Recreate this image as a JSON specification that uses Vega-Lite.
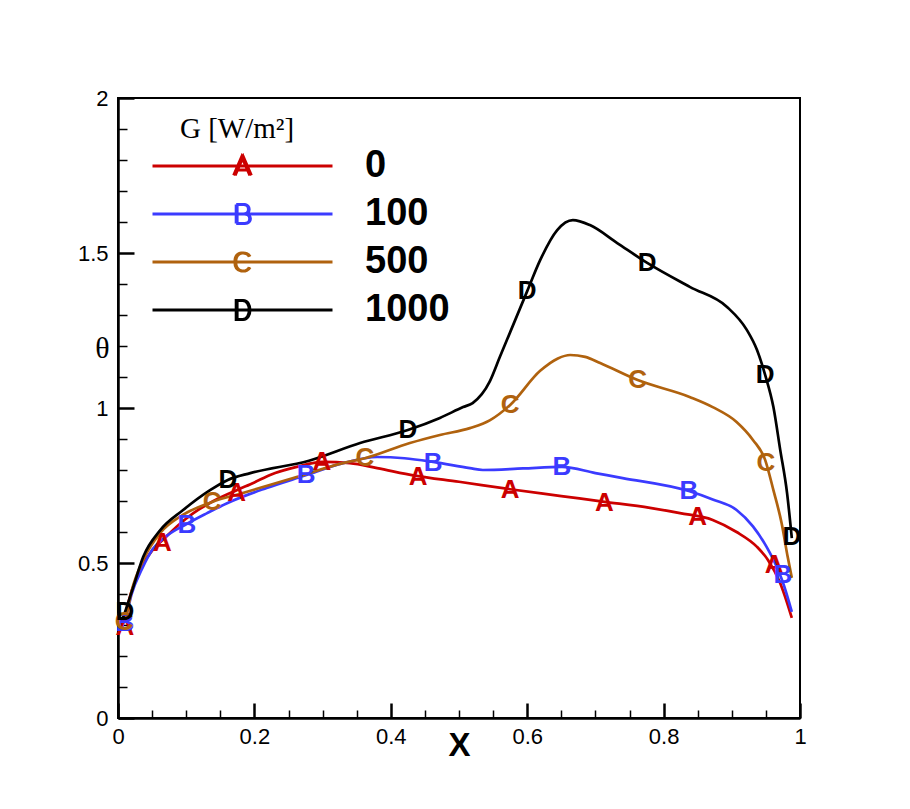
{
  "$schema": "https://vega.github.io/schema/vega-lite/v6.json",
  "width": 682,
  "height": 620,
  "autosize": {"type": "none"},
  "padding": {"left": 118, "top": 98, "right": 110, "bottom": 91},
  "background": "white",
  "config": {
    "view": {"stroke": "black", "strokeWidth": 2},
    "font": "Liberation Sans",
    "axis": {"grid": false, "labelFlush": false, "labelOverlap": false, "tickColor": "black", "domainColor": "black", "labelColor": "black", "titleColor": "black"}
  },
  "resolve": {"axis": {"x": "independent", "y": "independent"}},
  "datasets": {
    "curves": [
      {"G": "0", "x": 0.005, "y": 0.29}, {"G": "0", "x": 0.01, "y": 0.33}, {"G": "0", "x": 0.02, "y": 0.41},
      {"G": "0", "x": 0.035, "y": 0.49}, {"G": "0", "x": 0.05, "y": 0.54}, {"G": "0", "x": 0.066, "y": 0.575},
      {"G": "0", "x": 0.09, "y": 0.625}, {"G": "0", "x": 0.11, "y": 0.66}, {"G": "0", "x": 0.14, "y": 0.70},
      {"G": "0", "x": 0.174, "y": 0.735}, {"G": "0", "x": 0.2, "y": 0.76}, {"G": "0", "x": 0.223, "y": 0.784},
      {"G": "0", "x": 0.262, "y": 0.81}, {"G": "0", "x": 0.3, "y": 0.826}, {"G": "0", "x": 0.34, "y": 0.822},
      {"G": "0", "x": 0.38, "y": 0.806}, {"G": "0", "x": 0.435, "y": 0.782}, {"G": "0", "x": 0.5, "y": 0.762},
      {"G": "0", "x": 0.575, "y": 0.738}, {"G": "0", "x": 0.65, "y": 0.716}, {"G": "0", "x": 0.711, "y": 0.698},
      {"G": "0", "x": 0.78, "y": 0.678}, {"G": "0", "x": 0.824, "y": 0.661}, {"G": "0", "x": 0.872, "y": 0.639},
      {"G": "0", "x": 0.907, "y": 0.60}, {"G": "0", "x": 0.937, "y": 0.552}, {"G": "0", "x": 0.953, "y": 0.51},
      {"G": "0", "x": 0.971, "y": 0.435}, {"G": "0", "x": 0.988, "y": 0.323},

      {"G": "100", "x": 0.005, "y": 0.29}, {"G": "100", "x": 0.012, "y": 0.33}, {"G": "100", "x": 0.02, "y": 0.40},
      {"G": "100", "x": 0.035, "y": 0.48}, {"G": "100", "x": 0.051, "y": 0.545}, {"G": "100", "x": 0.07, "y": 0.585},
      {"G": "100", "x": 0.1, "y": 0.625}, {"G": "100", "x": 0.13, "y": 0.66}, {"G": "100", "x": 0.16, "y": 0.693},
      {"G": "100", "x": 0.218, "y": 0.742}, {"G": "100", "x": 0.274, "y": 0.782}, {"G": "100", "x": 0.33, "y": 0.822},
      {"G": "100", "x": 0.38, "y": 0.842}, {"G": "100", "x": 0.42, "y": 0.838}, {"G": "100", "x": 0.462, "y": 0.826},
      {"G": "100", "x": 0.516, "y": 0.806}, {"G": "100", "x": 0.535, "y": 0.80}, {"G": "100", "x": 0.594, "y": 0.805},
      {"G": "100", "x": 0.651, "y": 0.81}, {"G": "100", "x": 0.7, "y": 0.79}, {"G": "100", "x": 0.74, "y": 0.774},
      {"G": "100", "x": 0.837, "y": 0.732}, {"G": "100", "x": 0.872, "y": 0.705}, {"G": "100", "x": 0.907, "y": 0.671},
      {"G": "100", "x": 0.931, "y": 0.618}, {"G": "100", "x": 0.951, "y": 0.552}, {"G": "100", "x": 0.966, "y": 0.487},
      {"G": "100", "x": 0.975, "y": 0.437}, {"G": "100", "x": 0.988, "y": 0.342},

      {"G": "500", "x": 0.005, "y": 0.30}, {"G": "500", "x": 0.012, "y": 0.33}, {"G": "500", "x": 0.02, "y": 0.41},
      {"G": "500", "x": 0.037, "y": 0.51}, {"G": "500", "x": 0.062, "y": 0.597}, {"G": "500", "x": 0.095, "y": 0.655},
      {"G": "500", "x": 0.138, "y": 0.697}, {"G": "500", "x": 0.183, "y": 0.726}, {"G": "500", "x": 0.257, "y": 0.774},
      {"G": "500", "x": 0.33, "y": 0.822}, {"G": "500", "x": 0.362, "y": 0.838}, {"G": "500", "x": 0.428, "y": 0.887},
      {"G": "500", "x": 0.472, "y": 0.913}, {"G": "500", "x": 0.516, "y": 0.935}, {"G": "500", "x": 0.545, "y": 0.96},
      {"G": "500", "x": 0.575, "y": 1.01}, {"G": "500", "x": 0.619, "y": 1.12}, {"G": "500", "x": 0.645, "y": 1.16},
      {"G": "500", "x": 0.663, "y": 1.171}, {"G": "500", "x": 0.685, "y": 1.165}, {"G": "500", "x": 0.707, "y": 1.145},
      {"G": "500", "x": 0.762, "y": 1.09}, {"G": "500", "x": 0.839, "y": 1.035}, {"G": "500", "x": 0.872, "y": 1.003},
      {"G": "500", "x": 0.907, "y": 0.955}, {"G": "500", "x": 0.931, "y": 0.897}, {"G": "500", "x": 0.949, "y": 0.832},
      {"G": "500", "x": 0.961, "y": 0.735}, {"G": "500", "x": 0.973, "y": 0.629}, {"G": "500", "x": 0.982, "y": 0.519},
      {"G": "500", "x": 0.988, "y": 0.452},

      {"G": "1000", "x": 0.005, "y": 0.31}, {"G": "1000", "x": 0.01, "y": 0.34}, {"G": "1000", "x": 0.022, "y": 0.42},
      {"G": "1000", "x": 0.037, "y": 0.52}, {"G": "1000", "x": 0.062, "y": 0.606}, {"G": "1000", "x": 0.095, "y": 0.67},
      {"G": "1000", "x": 0.135, "y": 0.735}, {"G": "1000", "x": 0.161, "y": 0.768}, {"G": "1000", "x": 0.194, "y": 0.79},
      {"G": "1000", "x": 0.28, "y": 0.83}, {"G": "1000", "x": 0.355, "y": 0.887}, {"G": "1000", "x": 0.425, "y": 0.929},
      {"G": "1000", "x": 0.472, "y": 0.968}, {"G": "1000", "x": 0.506, "y": 1.003}, {"G": "1000", "x": 0.52, "y": 1.016},
      {"G": "1000", "x": 0.545, "y": 1.085}, {"G": "1000", "x": 0.56, "y": 1.165}, {"G": "1000", "x": 0.6, "y": 1.377},
      {"G": "1000", "x": 0.619, "y": 1.477}, {"G": "1000", "x": 0.644, "y": 1.574}, {"G": "1000", "x": 0.667, "y": 1.606},
      {"G": "1000", "x": 0.692, "y": 1.59}, {"G": "1000", "x": 0.732, "y": 1.532}, {"G": "1000", "x": 0.776, "y": 1.468},
      {"G": "1000", "x": 0.839, "y": 1.39}, {"G": "1000", "x": 0.893, "y": 1.326}, {"G": "1000", "x": 0.922, "y": 1.252},
      {"G": "1000", "x": 0.937, "y": 1.187}, {"G": "1000", "x": 0.949, "y": 1.106}, {"G": "1000", "x": 0.961, "y": 1.003},
      {"G": "1000", "x": 0.971, "y": 0.865}, {"G": "1000", "x": 0.981, "y": 0.726}, {"G": "1000", "x": 0.988, "y": 0.58}
    ],
    "markers": [
      {"G": "0", "sym": "A", "x": 0.01, "y": 0.295}, {"G": "0", "sym": "A", "x": 0.065, "y": 0.565},
      {"G": "0", "sym": "A", "x": 0.174, "y": 0.726}, {"G": "0", "sym": "A", "x": 0.299, "y": 0.826},
      {"G": "0", "sym": "A", "x": 0.44, "y": 0.777}, {"G": "0", "sym": "A", "x": 0.575, "y": 0.735},
      {"G": "0", "sym": "A", "x": 0.713, "y": 0.694}, {"G": "0", "sym": "A", "x": 0.85, "y": 0.648},
      {"G": "0", "sym": "A", "x": 0.962, "y": 0.494},
      {"G": "100", "sym": "B", "x": 0.01, "y": 0.305}, {"G": "100", "sym": "B", "x": 0.101, "y": 0.623},
      {"G": "100", "sym": "B", "x": 0.276, "y": 0.784}, {"G": "100", "sym": "B", "x": 0.462, "y": 0.823},
      {"G": "100", "sym": "B", "x": 0.651, "y": 0.81}, {"G": "100", "sym": "B", "x": 0.837, "y": 0.732},
      {"G": "100", "sym": "B", "x": 0.975, "y": 0.461},
      {"G": "500", "sym": "C", "x": 0.009, "y": 0.31}, {"G": "500", "sym": "C", "x": 0.138, "y": 0.697},
      {"G": "500", "sym": "C", "x": 0.362, "y": 0.839}, {"G": "500", "sym": "C", "x": 0.575, "y": 1.01},
      {"G": "500", "sym": "C", "x": 0.762, "y": 1.09}, {"G": "500", "sym": "C", "x": 0.95, "y": 0.823},
      {"G": "1000", "sym": "D", "x": 0.01, "y": 0.342}, {"G": "1000", "sym": "D", "x": 0.161, "y": 0.768},
      {"G": "1000", "sym": "D", "x": 0.425, "y": 0.929}, {"G": "1000", "sym": "D", "x": 0.6, "y": 1.377},
      {"G": "1000", "sym": "D", "x": 0.776, "y": 1.468}, {"G": "1000", "sym": "D", "x": 0.949, "y": 1.106},
      {"G": "1000", "sym": "D", "x": 0.988, "y": 0.584}
    ]
  },
  "layer": [
    {
      "data": {"name": "curves"},
      "mark": {"type": "line", "interpolate": "monotone", "strokeWidth": 2.7},
      "encoding": {
        "x": {
          "field": "x", "type": "quantitative",
          "scale": {"domain": [0, 1], "nice": false, "zero": false},
          "axis": {
            "orient": "bottom", "values": [0, 0.2, 0.4, 0.6, 0.8, 1],
            "ticks": false, "domainWidth": 2.5,
            "labelFont": "Liberation Sans", "labelFontSize": 22, "labelPadding": 8,
            "labelExpr": "toString(round(datum.value * 10) / 10)",
            "title": "X", "titleFont": "Liberation Sans", "titleFontSize": 33, "titleFontWeight": "bold",
            "titleX": 341, "titleY": 27, "titleBaseline": "middle", "titleAlign": "center"
          }
        },
        "y": {
          "field": "y", "type": "quantitative",
          "scale": {"domain": [0, 2], "nice": false, "zero": false},
          "axis": {
            "orient": "left", "values": [0, 0.5, 1, 1.5, 2],
            "ticks": false, "domainWidth": 2.5,
            "labelFont": "Liberation Sans", "labelFontSize": 22, "labelPadding": 10,
            "labelExpr": "toString(datum.value)",
            "title": "θ", "titleFont": "Liberation Serif", "titleFontSize": 30, "titleFontWeight": "normal",
            "titleAngle": 0, "titleX": -16, "titleY": 250, "titleBaseline": "middle", "titleAlign": "center"
          }
        },
        "color": {
          "field": "G", "type": "nominal",
          "scale": {"domain": ["0", "100", "500", "1000"], "range": ["#cc0000", "#3b3bff", "#b0620e", "#000000"]},
          "legend": {
            "orient": "none", "legendX": 33, "legendY": 17, "direction": "vertical",
            "title": "\u200b\u2003G [W/m²]",
            "titleFont": "Liberation Serif", "titleFontSize": 29, "titleFontWeight": "normal", "titleColor": "black",
            "titlePadding": 3,
            "labelFont": "Liberation Sans", "labelFontSize": 38, "labelFontWeight": "bold", "labelColor": "black",
            "labelOffset": 31, "rowPadding": 10, "padding": 0, "clipHeight": 38,
            "symbolType": "stroke", "symbolSize": 32400, "symbolStrokeWidth": 3, "symbolFillColor": "transparent",
            "encode": {
              "symbols": {
                "update": {
                  "fill": {"value": "transparent"},
                  "fillOpacity": {"value": 0},
                  "strokeWidth": {"value": 3},
                  "shape": {"signal": "datum.value === '0' ? 'M-1,0H1M-0.098,0.105L-0.008,-0.105L0.082,0.105M-0.082,0.105L0.008,-0.105L0.098,0.105M-0.05,0.045H0.05' : datum.value === '100' ? 'M-1,0H1M-0.07,-0.105V0.105M-0.06,-0.105V0.105M-0.07,0.105H0.02C0.1,0.105 0.1,0 0.02,0H-0.07M-0.062,0.105H0.028C0.108,0.105 0.108,0 0.028,0M0.01,0C0.085,0 0.085,-0.105 0.01,-0.105H-0.07M0.018,0C0.093,0 0.093,-0.105 0.018,-0.105' : datum.value === '500' ? 'M-1,0H1M0.075,-0.06C0.05,-0.115 -0.085,-0.13 -0.085,0C-0.085,0.13 0.05,0.115 0.075,0.06M0.083,-0.06C0.058,-0.115 -0.075,-0.13 -0.075,0C-0.075,0.13 0.058,0.115 0.083,0.06' : 'M-1,0H1M-0.07,-0.105V0.105H0C0.1,0.105 0.1,-0.105 0,-0.105Z M-0.06,-0.105V0.105H0.008C0.108,0.105 0.108,-0.105 0.008,-0.105H-0.06'"}
                }
              }
            }
          }
        }
      }
    },
    {
      "data": {"name": "markers"},
      "transform": [{"filter": "datum.sym === 'A' || datum.sym === 'B'"}],
      "mark": {"type": "text", "font": "Liberation Sans", "fontSize": 26, "fontWeight": "bold", "baseline": "middle", "align": "center"},
      "encoding": {
        "x": {
          "field": "x", "type": "quantitative",
          "axis": {
            "orient": "bottom", "values": [0, 0.2, 0.4, 0.6, 0.8, 1], "offset": -15,
            "labels": false, "domain": false, "tickSize": 15, "tickWidth": 2.5, "title": null
          }
        },
        "y": {
          "field": "y", "type": "quantitative",
          "axis": {
            "orient": "left", "values": [0, 0.5, 1, 1.5, 2], "offset": -16,
            "labels": false, "domain": false, "tickSize": 16, "tickWidth": 2.5, "title": null
          }
        },
        "text": {"field": "sym"},
        "fill": {
          "field": "G", "type": "nominal", "legend": null,
          "scale": {"domain": ["0", "100", "500", "1000"], "range": ["#cc0000", "#3b3bff", "#b0620e", "#000000"]}
        }
      }
    },
    {
      "data": {"name": "markers"},
      "transform": [{"filter": "datum.sym === 'C' || datum.sym === 'D'"}],
      "mark": {"type": "text", "font": "Liberation Sans", "fontSize": 26, "fontWeight": "bold", "baseline": "middle", "align": "center"},
      "encoding": {
        "x": {
          "field": "x", "type": "quantitative",
          "axis": {
            "orient": "bottom", "values": [0.05, 0.1, 0.15, 0.25, 0.3, 0.35, 0.45, 0.5, 0.55, 0.65, 0.7, 0.75, 0.85, 0.9, 0.95], "offset": -8,
            "labels": false, "domain": false, "tickSize": 8, "tickWidth": 1.5, "title": null
          }
        },
        "y": {
          "field": "y", "type": "quantitative",
          "axis": {
            "orient": "left", "values": [0.1, 0.2, 0.3, 0.4, 0.6, 0.7, 0.8, 0.9, 1.1, 1.2, 1.3, 1.4, 1.6, 1.7, 1.8, 1.9], "offset": -9,
            "labels": false, "domain": false, "tickSize": 9, "tickWidth": 1.5, "title": null
          }
        },
        "text": {"field": "sym"},
        "fill": {
          "field": "G", "type": "nominal", "legend": null,
          "scale": {"domain": ["0", "100", "500", "1000"], "range": ["#cc0000", "#3b3bff", "#b0620e", "#000000"]}
        }
      }
    }
  ]
}
